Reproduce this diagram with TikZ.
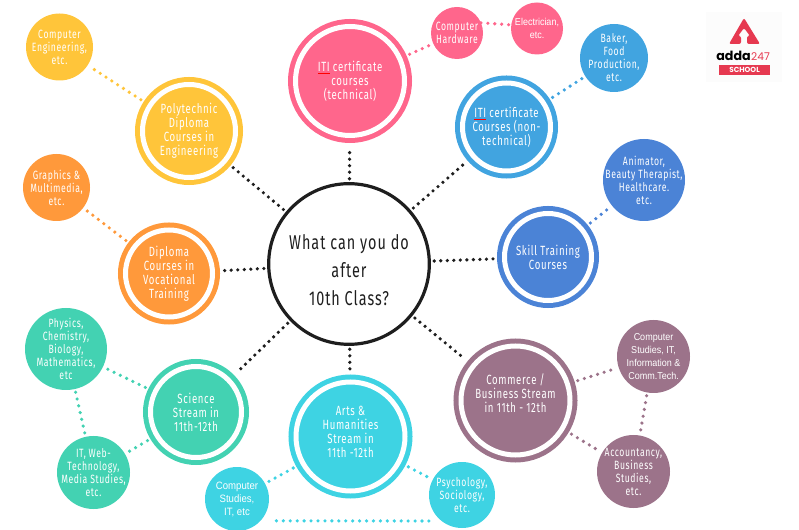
\documentclass[tikz,border=0pt]{standalone}
\usepackage{fontspec}
\setmainfont[FakeStretch=0.72,LetterSpace=5]{Fira Sans}
\newfontfamily\plainfont[FakeStretch=0.9]{Liberation Sans}
\newfontfamily\logofont{Poppins}
\usepackage{tikz}
\definecolor{pinkc}{HTML}{FF668C}
\definecolor{yellowc}{HTML}{FFC53A}
\definecolor{orangec}{HTML}{FF993B}
\definecolor{skyc}{HTML}{41A4E0}
\definecolor{bluec}{HTML}{4B83D6}
\definecolor{tealc}{HTML}{43D2B2}
\definecolor{cyanc}{HTML}{3ED3E3}
\definecolor{mauvec}{HTML}{9C738A}
\definecolor{hubc}{HTML}{1E1E1E}
\definecolor{logoc}{HTML}{E63950}
\newcommand{\itimark}{\textcolor{red}{\underline{\textcolor{white}{ITI}}}}

\begin{document}
\begin{tikzpicture}[
    x=0.75pt, y=-0.75pt,
    ring/.style 2 args={circle, fill=#1, draw=#1, double=white, double distance=3.75pt, line width=3.75pt, minimum size={(2*#2-15)*0.75pt}, inner sep=-8pt, outer sep=5.625pt, text=white, align=center, font=\fontsize{10}{10.5}\selectfont},
    leaf/.style 2 args={circle, fill=#1, minimum size={2*#2*0.75pt}, inner sep=-10pt, outer sep=0pt, text=white, align=center, font=\fontsize{9}{9.75}\selectfont},
    hublink/.style={draw=hubc, line width=2.7pt, line cap=round, dash pattern=on 0pt off 4.9pt, shorten >=2.5pt, shorten <=2.5pt},
    leaflink/.style={draw=#1, line width=2.7pt, line cap=round, dash pattern=on 0pt off 5.2pt, shorten >=2.5pt, shorten <=2.5pt},
]
\useasboundingbox (0,0) rectangle (799,530);

\node[circle, draw=hubc, line width=2.4pt, minimum size=120.5pt, inner sep=-10pt, outer sep=1.2pt, align=center, text=hubc, font=\fontsize{15}{21}\selectfont] (hub) at (349,264) {\mbox{}\\What can you do\\after\\10th Class?};

\node[ring={pinkc}{62}] (itit) at (350,81) {\itimark{} certificate\\courses\\(technical)};
\node[ring={yellowc}{54}] (poly) at (189,131) {Polytechnic\\Diploma\\Courses in\\Engineering};
\node[ring={orangec}{51}] (dipl) at (169,273.5) {Diploma\\Courses in\\Vocational\\Training};
\node[ring={tealc}{53}] (scie) at (196,412) {Science\\Stream in\\11th-12th};
\node[ring={cyanc}{62}] (arts) at (350.5,436.5) {Arts \&\\Humanities\\Stream in\\11th -12th\\[-4pt]\mbox{}};
\node[ring={mauvec}{62}] (comm) at (515.5,400.5) {Commerce /\\Business Stream\\in 11th - 12th\\\mbox{}};
\node[ring={bluec}{51}] (skil) at (548,257) {Skill Training\\Courses};
\node[ring={skyc}{51.5}] (itin) at (506.5,127) {\itimark{} certificate\\Courses (non-\\technical)};

\node[leaf={yellowc}{33.5}] (ceng) at (59.5,47) {Computer\\Engineering,\\etc.};
\node[leaf={orangec}{33.5}] (grap) at (56.5,187.5) {Graphics \&\\Multimedia,\\etc.};
\node[leaf={tealc}{41}] (phys) at (66,349) {Physics,\\Chemistry,\\Biology,\\Mathematics,\\etc};
\node[leaf={tealc}{36.5}] (webt) at (93.5,472.5) {IT, Web-\\Technology,\\Media Studies,\\etc.};
\node[leaf={cyanc}{32}, font=\plainfont\fontsize{8}{9.75}\selectfont] (csit) at (237,499) {Computer\\Studies,\\IT, etc};
\node[leaf={cyanc}{33}] (psyc) at (462,495) {Psychology,\\Sociology,\\etc.};
\node[leaf={mauvec}{36.5}] (acct) at (633.5,471.5) {Accountancy,\\Business\\Studies,\\etc.};
\node[leaf={mauvec}{36.5}, font=\plainfont\fontsize{7.5}{9.75}\selectfont] (cinf) at (653.5,356.5) {Computer\\Studies, IT,\\Information \&\\Comm.Tech.};
\node[leaf={bluec}{41}] (anim) at (644,180) {Animator,\\Beauty Therapist,\\Healthcare.\\etc.};
\node[leaf={skyc}{34}] (bake) at (614,58) {Baker,\\Food\\Production,\\etc.};
\node[leaf={pinkc}{26}, font=\plainfont\fontsize{7.5}{9.75}\selectfont] (elec) at (537,28.5) {Electrician,\\etc.};
\node[leaf={pinkc}{26}] (hard) at (457,33) {Computer\\Hardware};

\draw[hublink] (hub) -- (itit);
\draw[hublink] (hub) -- (poly);
\draw[hublink] (hub) -- (dipl);
\draw[hublink] (hub) -- (scie);
\draw[hublink] (hub) -- (arts);
\draw[hublink] (hub) -- (comm);
\draw[hublink] (hub) -- (skil);
\draw[hublink] (hub) -- (itin);

\draw[leaflink=pinkc] (itit) -- (hard);
\draw[leaflink=pinkc, shorten >=0pt, shorten <=0pt] (hard.23) -- (elec.172);
\draw[leaflink=yellowc] (poly) -- (ceng);
\draw[leaflink=orangec] (dipl) -- (grap);
\draw[leaflink=skyc] (itin) -- (bake);
\draw[leaflink=bluec] (skil) -- (anim);
\draw[leaflink=mauvec] (comm) -- (cinf);
\draw[leaflink=mauvec] (comm) -- (acct);
\draw[leaflink=mauvec] (cinf) -- (acct);
\draw[leaflink=tealc] (scie) -- (phys);
\draw[leaflink=tealc] (scie) -- (webt);
\draw[leaflink=tealc] (phys) -- (webt);
\draw[leaflink=cyanc] (arts) -- (csit);
\draw[leaflink=cyanc] (arts) -- (psyc);
\draw[leaflink=cyanc, shorten <=12pt, shorten >=9pt] (csit.-43) -- (psyc.232);

\fill[black!1] (706,12) rectangle (782,82);
\fill[logoc, rounded corners=1.5pt] (744,18) -- (760,44) -- (747,44) -- (747,36) -- (750,36) -- (744,28) -- (738,36) -- (741,36) -- (741,44) -- (729,44) -- cycle;
\node[inner sep=0pt, font=\logofont\bfseries\fontsize{9.5}{10}\selectfont, text=black] (addaword) at (733.5,56) {adda};
\node[inner sep=0pt, font=\logofont\fontsize{8}{10}\selectfont, text=logoc] (addanum) at (760.5,56.5) {247};
\node[fill=logoc, minimum width=38pt, minimum height=7pt, inner sep=0pt, text=white, font=\logofont\bfseries\fontsize{5.5}{6}\selectfont] (addaschool) at (744.5,70) {SCHOOL};
\end{tikzpicture}
\end{document}
